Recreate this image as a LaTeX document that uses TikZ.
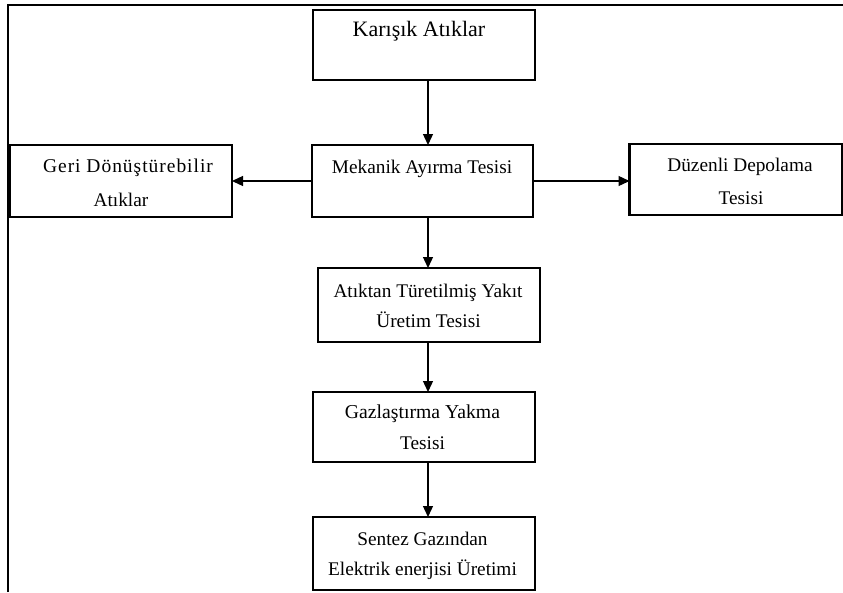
\documentclass[tikz,border=0pt]{standalone}
\usepackage{fontspec}
\setmainfont{Liberation Serif}
\newfontfamily\spacedserif[LetterSpace=5]{Liberation Serif}
\usetikzlibrary{arrows.meta}
\tikzset{
  box/.style={draw, line width=2.3pt, inner sep=0pt, outer sep=0pt},
  lbl/.style={anchor=base, inner sep=0pt, font=\fontsize{19.3}{23}\selectfont},
  biglbl/.style={lbl, font=\fontsize{22}{26}\selectfont},
  widelbl/.style={lbl, font=\fontsize{19.5}{23}\spacedserif},
  flow/.style={line width=1.3pt, -{Triangle[length=11pt,width=10pt]}},
  frame/.style={line width=1.5pt}
}
\begin{document}
\begin{tikzpicture}[x=1pt,y=-1pt]
\useasboundingbox (0,0) rectangle (843,592);
% open frame: top and left edges
\coordinate (fa) at (8,592);
\coordinate (fb) at (8,5);
\coordinate (fc) at (843,5);
\draw[frame] (fa) -- (fb) -- (fc);

% process boxes
\node[box, minimum width=222pt, minimum height=70pt] (K) at (424,45) {};
\node[box, minimum width=221pt, minimum height=72pt] (M) at (422.5,181) {};
\node[box, minimum width=222pt, minimum height=72pt] (G) at (121,181) {};
\node[box, minimum width=213pt, minimum height=71pt] (D) at (736,179.5) {};
\node[box, minimum width=222pt, minimum height=74pt] (A) at (429,305) {};
\node[box, minimum width=222pt, minimum height=70pt] (Z) at (424,427) {};
\node[box, minimum width=222pt, minimum height=73pt] (S) at (424,553.5) {};

% box labels
\node[biglbl] (Kt) at (419,36) {Karışık Atıklar};
\node[lbl] (Mt) at (422,173) {Mekanik Ayırma Tesisi};
\node[widelbl] (Gt1) at (128,172) {Geri Dönüştürebilir};
\node[lbl] (Gt2) at (121,206) {Atıklar};
\node[lbl] (Dt1) at (740,171) {Düzenli Depolama};
\node[lbl] (Dt2) at (741,204) {Tesisi};
\node[lbl] (At1) at (428,297) {Atıktan Türetilmiş Yakıt};
\node[lbl] (At2) at (428.5,327) {Üretim Tesisi};
\node[lbl, font=\fontsize{19.7}{24}\selectfont] (Zt1) at (422.5,418) {Gazlaştırma Yakma};
\node[lbl] (Zt2) at (422.5,449) {Tesisi};
\node[lbl] (St1) at (422.5,545) {Sentez Gazından};
\node[lbl] (St2) at (422.5,575) {Elektrik enerjisi Üretimi};

% flow connectors
\coordinate (ax) at (428,0);
\draw[flow] (K.south -| ax) -- (M.north -| ax);
\draw[flow] (M.west) -- (G.east);
\draw[flow] (M.east) -- (M.east -| D.west);
\draw[flow] (M.south -| ax) -- (A.north -| ax);
\draw[flow] (A.south -| ax) -- (Z.north -| ax);
\draw[flow] (Z.south -| ax) -- (S.north -| ax);
\end{tikzpicture}
\end{document}
